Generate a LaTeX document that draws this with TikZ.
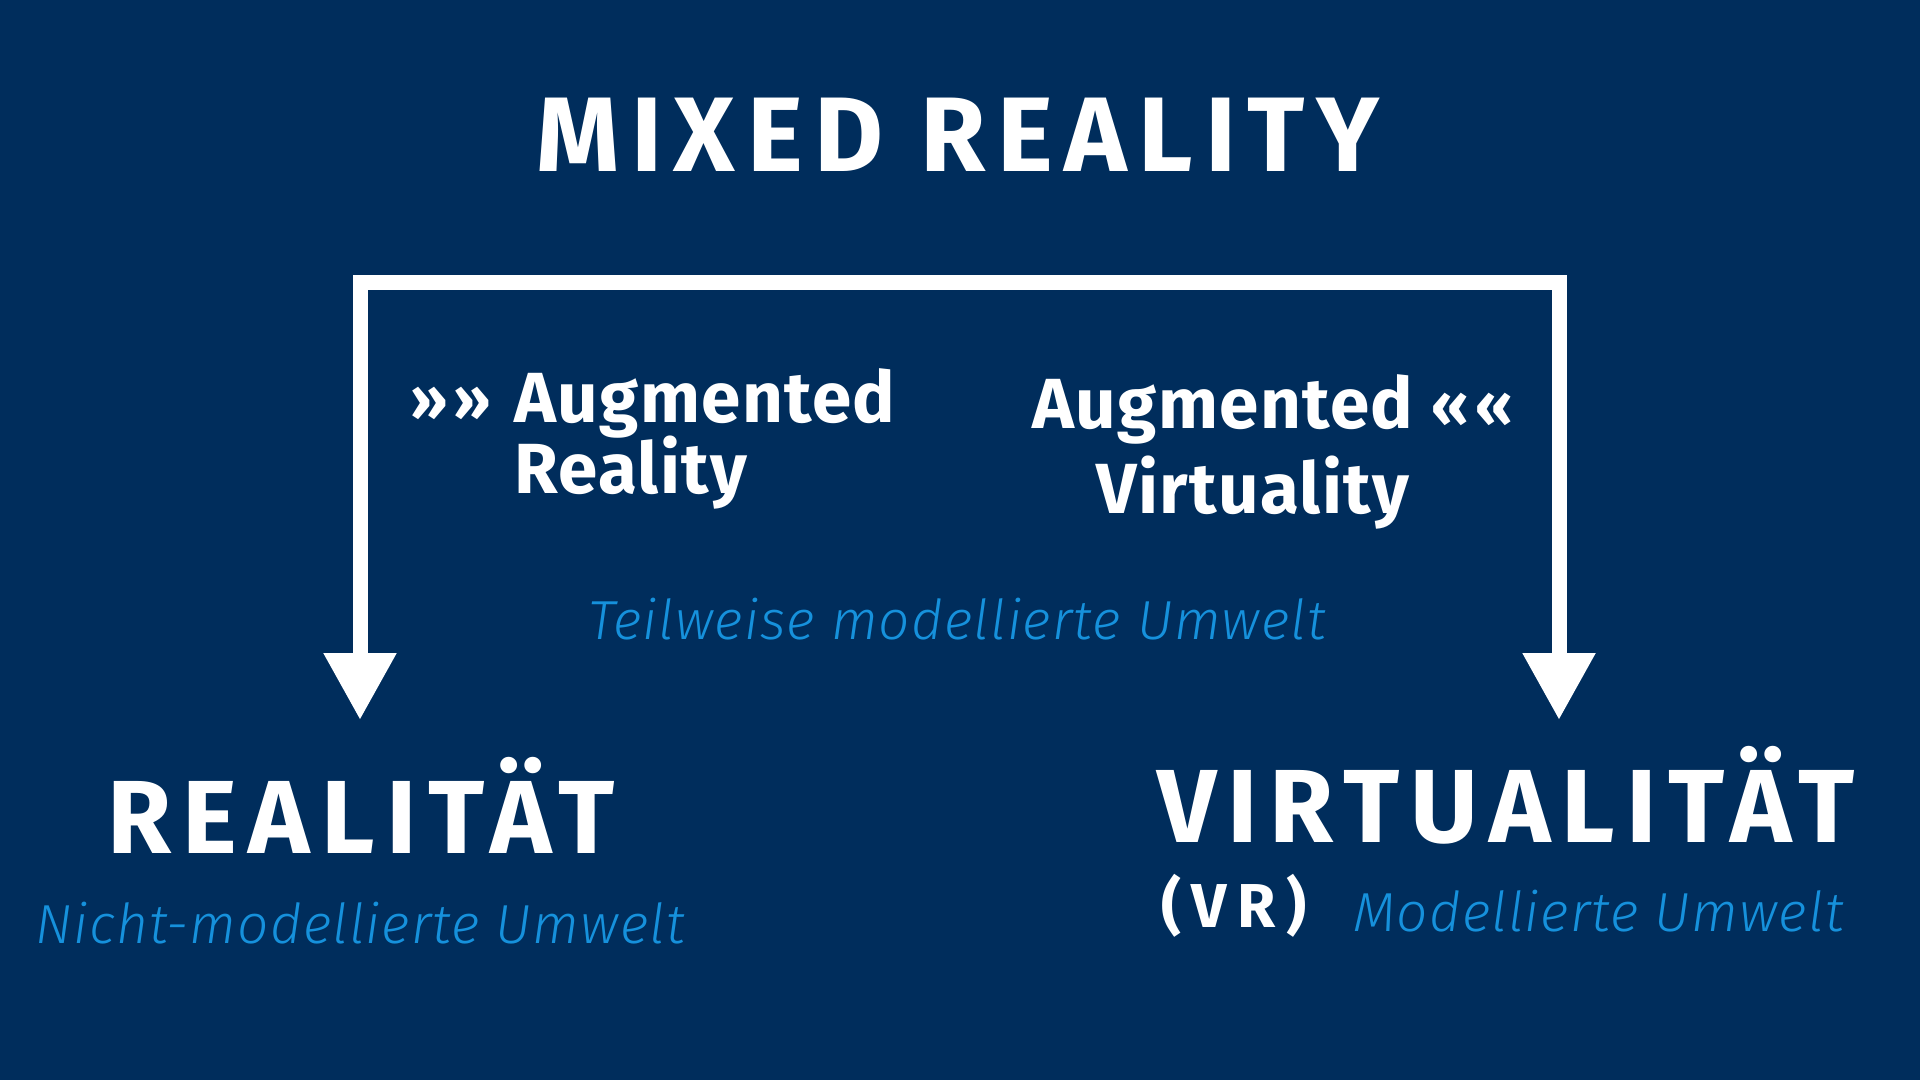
\documentclass[tikz,border=0pt]{standalone}
\usepackage{fontspec}
\setmainfont{Fira Sans}
\newfontfamily\headfont[LetterSpace=11]{Fira Sans}
\newfontfamily\augfont[LetterSpace=2]{Fira Sans}
\newfontfamily\lightfont[LetterSpace=2.1]{Fira Sans Light}
\newcommand{\quot}[1]{\raisebox{2pt}{\fontsize{60}{60}\selectfont#1}}
\usetikzlibrary{calc, arrows.meta}
\definecolor{navy}{HTML}{002D5C}
\definecolor{skyblue}{HTML}{1691DC}
\tikzstyle{heading}=[text=white, font=\headfont\bfseries\fontsize{104}{110}\selectfont, inner sep=0pt]
\tikzstyle{augtext}=[text=white, font=\augfont\bfseries\fontsize{71}{80}\selectfont, inner sep=0pt, anchor=base west]
\tikzstyle{subtext}=[text=skyblue, font=\lightfont\itshape\fontsize{55}{60}\selectfont, inner sep=0pt]
\tikzstyle{bracket}=[draw=white, line width=15pt, line join=miter]

\begin{document}
\begin{tikzpicture}[x=1pt,y=-1pt,>={Triangle[width=69pt,length=67pt]}]
  \fill[navy] (0,0) rectangle (1920,1080);
  \useasboundingbox (0,0) rectangle (1920,1080);

  \node [heading, anchor=base, font=\headfont\bfseries\fontsize{106}{110}\selectfont] (title) at (958,171) {MIXED REALITY};

  \node (top) [coordinate] at (957,282) {};
  \node (tipL) [coordinate] at (360,720) {};
  \node (tipR) [coordinate] at (1559,720) {};

  \node [augtext] (quoL) at (410,422) {\quot{»\hspace{0.1em}»}};
  \node [augtext] (augL) at (514,422) {Augmented};
  \node [augtext] (reality) at (514,493) {Reality};

  \node [augtext] (augR) at (1032,428) {Augmented \quot{«\hspace{0.1em}«}};
  \node [augtext] (virtuality) at (1096,513) {Virtuality};

  \node [subtext, anchor=base] (partly) at (957,639) {Teilweise modellierte Umwelt};

  \node [heading, anchor=base] (real) at (361,853) {REALITÄT};
  \node [subtext, anchor=base] (notmod) at (360,943) {Nicht-modellierte Umwelt};

  \node [heading, anchor=base west] (virt) at (1157,842) {VIRTUALITÄT};
  \node [augtext, font=\headfont\bfseries\fontsize{62}{70}\selectfont\addfontfeature{LetterSpace=17}] (vr) at (1161,927) {(VR)};
  \node [subtext, anchor=base west] (mod) at (1353,931) {Modellierte Umwelt};

  \draw[bracket, <->] (tipL) -- (tipL |- top) -- (tipR |- top) -- (tipR);
\end{tikzpicture}
\end{document}
